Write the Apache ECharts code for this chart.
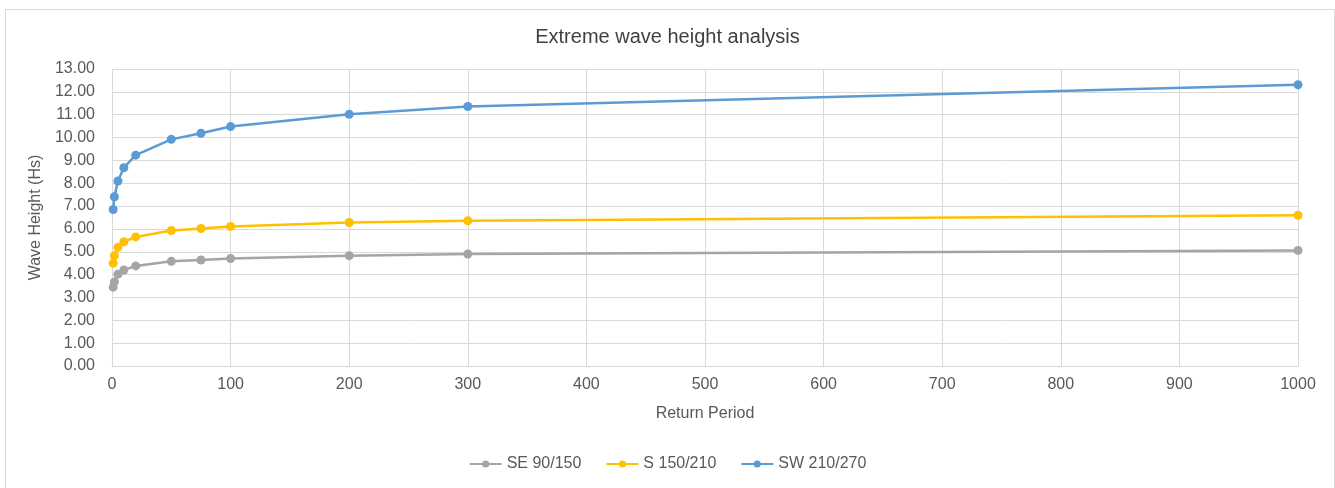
<!DOCTYPE html>
<html>
<head>
<meta charset="utf-8">
<script src="https://cdn.jsdelivr.net/npm/echarts@6/dist/echarts.min.js"></script>
<style>
html,body{margin:0;padding:0;background:#fff;}
#c{width:1335px;height:488px;}
</style>
</head>
<body>
<div id="c"></div>
<script>
const returnPeriods = [1, 2, 5, 10, 20, 50, 75, 100, 200, 300, 1000];
const seValues = [3.45, 3.68, 4.02, 4.20, 4.38, 4.58, 4.64, 4.70, 4.83, 4.90, 5.06];
const sValues  = [4.50, 4.83, 5.20, 5.44, 5.65, 5.93, 6.02, 6.11, 6.28, 6.36, 6.60];
const swValues = [6.85, 7.41, 8.10, 8.68, 9.23, 9.92, 10.19, 10.48, 11.02, 11.36, 12.31];
const seriesNames = ['SE 90/150', 'S 150/210', 'SW 210/270'];
const titleText = 'Extreme wave height analysis';
const xAxisName = 'Return Period';
const yAxisName = 'Wave Height (Hs)';

const FONT = 'Liberation Sans';
const TXT = '#595959';
const colors = ['#A5A5A5', '#FFC000', '#5B9BD5'];

function pairs(vals){ return returnPeriods.map((x,i)=>[x, vals[i]]); }

const chart = echarts.init(document.getElementById('c'));
chart.setOption({
  animation: false,
  color: colors,
  textStyle: {fontFamily: FONT, color: TXT},
  title: {
    text: titleText, left: 'center', top: 22,
    textStyle: {fontFamily: FONT, fontSize: 20, fontWeight: 'normal', color: '#404040'}
  },
  graphic: [{
    type: 'rect', left: 3, top: 7,
    shape: {width: 1329, height: 480},
    style: {fill: 'none', stroke: '#D9D9D9', lineWidth: 1}
  }],
  legend: {
    bottom: 11, left: 'center', itemWidth: 32, itemHeight: 9, itemGap: 24,
    textStyle: {fontFamily: FONT, fontSize: 16, color: TXT},
    data: seriesNames
  },
  grid: {left: 112, right: 37, top: 69, bottom: 122},
  xAxis: {
    type: 'value', min: 0, max: 1000, interval: 100,
    name: xAxisName, nameLocation: 'middle', nameGap: 40,
    nameTextStyle: {fontFamily: FONT, fontSize: 16, color: TXT},
    axisLine: {show: true, lineStyle: {color: '#D9D9D9'}},
    axisTick: {show: false},
    axisLabel: {fontFamily: FONT, fontSize: 16, color: TXT, margin: 11,
      formatter: v => String(v)},
    splitLine: {show: true, lineStyle: {color: '#D9D9D9'}}
  },
  yAxis: {
    type: 'value', min: 0, max: 13, interval: 1,
    name: yAxisName, nameLocation: 'middle', nameGap: 62,
    nameTextStyle: {fontFamily: FONT, fontSize: 16, color: TXT},
    axisLine: {show: false},
    axisTick: {show: false},
    axisLabel: {fontFamily: FONT, fontSize: 16, color: TXT, margin: 17,
      formatter: v => v.toFixed(2)},
    splitLine: {show: true, lineStyle: {color: '#D9D9D9'}}
  },
  series: [
    {name: seriesNames[0], type: 'line', data: pairs(seValues), symbol: 'circle', symbolSize: 9, lineStyle: {width: 2.5}},
    {name: seriesNames[1], type: 'line', data: pairs(sValues), symbol: 'circle', symbolSize: 9, lineStyle: {width: 2.5}},
    {name: seriesNames[2], type: 'line', data: pairs(swValues), symbol: 'circle', symbolSize: 9, lineStyle: {width: 2.5}}
  ]
});
</script>
</body>
</html>
